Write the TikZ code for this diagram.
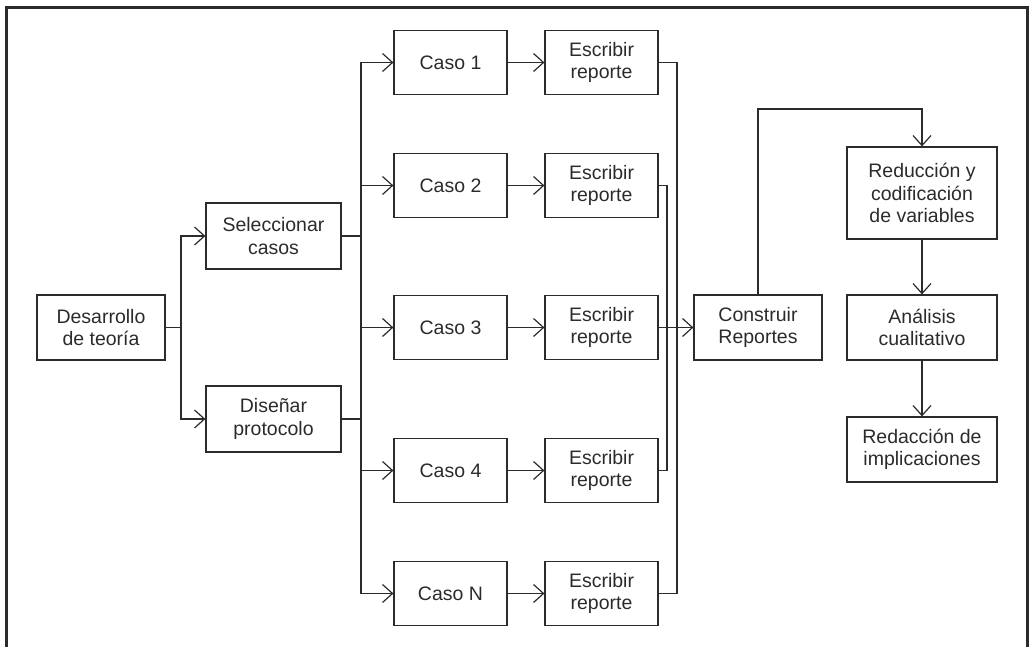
\documentclass[tikz,border=0pt]{standalone}
\usepackage{fontspec}
\setmainfont{Liberation Sans}
\usetikzlibrary{arrows.meta}
\definecolor{ink}{HTML}{2B2B2B}
\begin{document}
\begin{tikzpicture}[x=1pt,y=-1pt,
  box/.style={draw=ink,line width=1.2pt,rectangle,inner sep=0pt,align=center,
    text=ink,font=\fontsize{19.5}{22.5}\selectfont},
  conn/.style={draw=ink,line width=1.2pt},
  arr/.style={conn,-{Straight Barb[length=10pt,width=18pt,line width=1.2pt]}}]
\useasboundingbox (0,0) rectangle (1029,647);
\draw[ink,line width=2.6pt] (6.5,647) -- (6.5,7.5) -- (1027.5,7.5) -- (1027.5,647);

\node[box,minimum width=128pt,minimum height=65pt] (des) at (101,327.5) {Desarrollo\\de teoría};
\node[box,minimum width=135pt,minimum height=66pt] (sel) at (273.5,236) {Seleccionar\\casos};
\node[box,minimum width=135pt,minimum height=66pt] (dis) at (273.5,419) {Diseñar\\protocolo};

\node[box,minimum width=113pt,minimum height=64pt] (c1) at (450.5,62.5) {Caso 1};
\node[box,minimum width=113pt,minimum height=64pt] (c2) at (450.5,185.5) {Caso 2};
\node[box,minimum width=113pt,minimum height=64pt] (c3) at (450.5,327.5) {Caso 3};
\node[box,minimum width=113pt,minimum height=64pt] (c4) at (450.5,470.5) {Caso 4};
\node[box,minimum width=113pt,minimum height=64pt] (c5) at (450.5,593.5) {Caso N};

\foreach \i/\y in {1/62.5,2/185.5,3/327.5,4/470.5,5/593.5}{
  \node[box,minimum width=113pt,minimum height=64pt] (e\i) at (601.5,\y) {Escribir\\reporte};
}

\node[box,minimum width=128pt,minimum height=65pt] (con) at (758,327.5) {Construir\\Reportes};
\node[box,minimum width=150pt,minimum height=92pt] (red) at (922,193) {Reducción y\\codificación\\de variables};
\node[box,minimum width=150pt,minimum height=65pt] (ana) at (922,327.5) {Análisis\\cualitativo};
\node[box,minimum width=150pt,minimum height=65pt] (rdc) at (922,449.5) {Redacción de\\implicaciones};

% left branching
\coordinate (jd) at (181,327.5);
\draw[conn] (des.east) -- (jd);
\draw[arr] (jd) |- (sel.west);
\draw[arr] (jd) |- (dis.west);

% case bus
\coordinate (bt) at (361,62.5);
\coordinate (bb) at (361,593.5);
\draw[conn] (bt) -- (bb);
\draw[conn] (sel.east) -- (bt |- sel.east);
\draw[conn] (dis.east) -- (bt |- dis.east);
\foreach \i in {1,...,5}{
  \draw[arr] (bt |- c\i.west) -- (c\i.west);
  \draw[arr] (c\i.east) -- (e\i.west);
}

% report collectors
\coordinate (ro) at (677,62.5);
\coordinate (ri) at (667,185.5);
\draw[conn] (e1.east) -- (ro) -- (ro |- e5.east) -- (e5.east);
\draw[conn] (e2.east) -- (ri) -- (ri |- e4.east) -- (e4.east);
\draw[arr] (e3.east) -- (con.west);

% right column
\coordinate (top) at (758,109);
\draw[arr] (con.north) -- (top) -| (red.north);
\draw[arr] (red.south) -- (ana.north);
\draw[arr] (ana.south) -- (rdc.north);
\end{tikzpicture}
\end{document}
